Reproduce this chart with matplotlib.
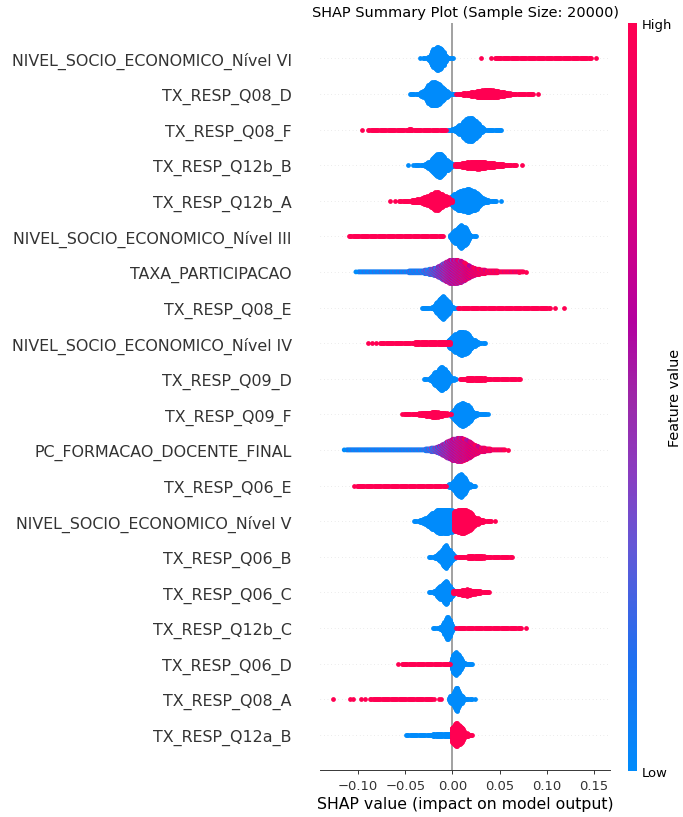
import numpy as np
import matplotlib.pyplot as plt
from matplotlib.colors import LinearSegmentedColormap
from matplotlib.cm import ScalarMappable

# Feature order, top to bottom
features = [
    "NIVEL_SOCIO_ECONOMICO_Nível VI", "TX_RESP_Q08_D", "TX_RESP_Q08_F",
    "TX_RESP_Q12b_B", "TX_RESP_Q12b_A", "NIVEL_SOCIO_ECONOMICO_Nível III",
    "TAXA_PARTICIPACAO", "TX_RESP_Q08_E", "NIVEL_SOCIO_ECONOMICO_Nível IV",
    "TX_RESP_Q09_D", "TX_RESP_Q09_F", "PC_FORMACAO_DOCENTE_FINAL",
    "TX_RESP_Q06_E", "NIVEL_SOCIO_ECONOMICO_Nível V", "TX_RESP_Q06_B",
    "TX_RESP_Q06_C", "TX_RESP_Q12b_C", "TX_RESP_Q06_D", "TX_RESP_Q08_A",
    "TX_RESP_Q12a_B",
]

# Swarm outline of the low-valued (blue) points: SHAP value knots and half height (rows)
low_x = [
    [-0.031, -0.029, -0.024, -0.0205, -0.016, -0.0117, -0.0081, -0.0046, 0.0],
    [-0.0452, -0.0381, -0.0346, -0.0293, -0.0258, -0.0198, -0.0134, -0.0081, -0.0028, 0.0042],
    [-0.0046, 0.0042, 0.0095, 0.0148, 0.0191, 0.0237, 0.029, 0.0343, 0.0413, 0.0519],
    [-0.0399, -0.0311, -0.0258, -0.0205, -0.0141, -0.0081, -0.0028, 0.0025],
    [-0.0028, -0.0011, 0.006, 0.0166, 0.0254, 0.0325, 0.0395, 0.0466],
    [-0.0028, 0.0042, 0.0095, 0.0148, 0.0184, 0.0219, 0.0254],
    [-0.0999, -0.0805, -0.0523, -0.0311, -0.0169, -0.0099, -0.0028, 0.0025, 0.0095, 0.0166, 0.0237, 0.036, 0.0537, 0.0678, 0.0749],
    [-0.0328, -0.024, -0.0187, -0.0134, -0.0099, -0.0056, -0.0011, 0.0042],
    [-0.0064, 0.0007, 0.0095, 0.0166, 0.0219, 0.0272, 0.0343],
    [-0.03, -0.024, -0.0187, -0.0134, -0.0106, -0.0064, -0.0011, 0.0042],
    [-0.0011, 0.0042, 0.0106, 0.0166, 0.0219, 0.029, 0.0378],
    [-0.1123, -0.0805, -0.0452, -0.0275, -0.0152, -0.0064, 0.0007, 0.0085, 0.0148, 0.0219, 0.029, 0.0395, 0.0501, 0.0554],
    [-0.0046, 0.0025, 0.0085, 0.0131, 0.0166, 0.0201, 0.0237],
    [-0.0406, -0.0346, -0.0293, -0.0222, -0.0169, -0.0117, -0.0046, 0.0014],
    [-0.0247, -0.0187, -0.0134, -0.0099, -0.0071, -0.0028, 0.0025],
    [-0.0247, -0.0187, -0.0134, -0.0081, -0.0064, -0.0028, 0.0025],
    [-0.0205, -0.0152, -0.0106, -0.0081, -0.0056, -0.0021, 0.0007, 0.0025],
    [-0.0018, 0.0011, 0.0039, 0.0074, 0.0117, 0.0169, 0.0215],
    [-0.0035, 0.0011, 0.0046, 0.0081, 0.0117, 0.0152, 0.0187],
    [-0.0491, -0.0272, -0.0201, -0.0007],
]
low_h = [
    [0.056, 0.056, 0.14, 0.328, 0.412, 0.356, 0.187, 0.075, 0.056],
    [0.047, 0.056, 0.094, 0.187, 0.328, 0.412, 0.337, 0.187, 0.094, 0.056],
    [0.075, 0.131, 0.234, 0.375, 0.421, 0.356, 0.187, 0.094, 0.066, 0.047],
    [0.056, 0.075, 0.14, 0.281, 0.412, 0.281, 0.14, 0.075],
    [0.14, 0.187, 0.328, 0.412, 0.309, 0.14, 0.084, 0.066],
    [0.112, 0.281, 0.412, 0.281, 0.112, 0.066, 0.047],
    [0.056, 0.066, 0.084, 0.112, 0.187, 0.3, 0.393, 0.412, 0.375, 0.262, 0.169, 0.112, 0.084, 0.066, 0.056],
    [0.047, 0.066, 0.14, 0.328, 0.412, 0.281, 0.112, 0.066],
    [0.112, 0.281, 0.412, 0.328, 0.169, 0.094, 0.047],
    [0.047, 0.094, 0.234, 0.375, 0.412, 0.281, 0.112, 0.075],
    [0.14, 0.281, 0.412, 0.328, 0.14, 0.075, 0.056],
    [0.047, 0.066, 0.075, 0.094, 0.15, 0.281, 0.375, 0.412, 0.356, 0.234, 0.14, 0.094, 0.066, 0.056],
    [0.094, 0.234, 0.412, 0.281, 0.14, 0.094, 0.056],
    [0.056, 0.094, 0.14, 0.281, 0.375, 0.412, 0.393, 0.356],
    [0.056, 0.094, 0.187, 0.328, 0.412, 0.234, 0.094],
    [0.056, 0.112, 0.234, 0.375, 0.412, 0.234, 0.094],
    [0.056, 0.075, 0.131, 0.281, 0.412, 0.281, 0.112, 0.075],
    [0.14, 0.328, 0.412, 0.281, 0.112, 0.075, 0.047],
    [0.094, 0.281, 0.412, 0.234, 0.094, 0.075, 0.056],
    [0.056, 0.066, 0.094, 0.094],
]

# Swarm outline of the high-valued (red) points
high_x = [
    [0.0448, 0.06, 0.13, 0.147],
    [0.0042, 0.0184, 0.029, 0.0385, 0.0466, 0.0607, 0.0749, 0.0855],
    [-0.0893, -0.0629, -0.0452, -0.0275, -0.0064],
    [0.0025, 0.0148, 0.0272, 0.0395, 0.0537, 0.0678],
    [-0.0565, -0.0452, -0.0346, -0.0258, -0.0169, -0.0099, -0.0028, 0.0],
    [-0.1095, -0.105, -0.0452, -0.0099],
    [],
    [0.006, 0.0254, 0.0607, 0.1031],
    [-0.077, -0.0629, -0.0452, -0.0293, -0.0169, -0.0028],
    [0.0078, 0.0184, 0.0325, 0.0537, 0.0713],
    [-0.053, -0.0417, -0.0293, -0.0187, -0.0099, -0.0011],
    [],
    [-0.1017, -0.0452, -0.0064],
    [0.0014, 0.006, 0.0113, 0.0184, 0.0237, 0.029, 0.036, 0.0413],
    [0.0042, 0.0184, 0.0325, 0.0466, 0.0625],
    [0.0007, 0.0078, 0.0148, 0.0219, 0.029, 0.036, 0.0395],
    [0.0042, 0.0254, 0.0466, 0.0731],
    [-0.0537, -0.0378, -0.0201, -0.0025],
    [-0.0872, -0.0554, -0.0378, -0.0201],
    [-0.0007, 0.0046, 0.0099, 0.0134, 0.0169, 0.0212],
]
high_h = [
    [0.07, 0.084, 0.084, 0.066],
    [0.075, 0.112, 0.159, 0.187, 0.15, 0.094, 0.066, 0.056],
    [0.056, 0.066, 0.094, 0.075, 0.066],
    [0.094, 0.14, 0.169, 0.131, 0.094, 0.066],
    [0.056, 0.084, 0.131, 0.206, 0.337, 0.234, 0.14, 0.094],
    [0.056, 0.07, 0.066, 0.056],
    [],
    [0.07, 0.075, 0.066, 0.056],
    [0.056, 0.066, 0.084, 0.112, 0.094, 0.094],
    [0.075, 0.103, 0.094, 0.075, 0.047],
    [0.056, 0.075, 0.112, 0.159, 0.112, 0.075],
    [],
    [0.06, 0.066, 0.056],
    [0.337, 0.375, 0.412, 0.328, 0.187, 0.112, 0.075, 0.056],
    [0.084, 0.094, 0.094, 0.075, 0.056],
    [0.094, 0.131, 0.169, 0.131, 0.094, 0.075, 0.056],
    [0.075, 0.075, 0.066, 0.056],
    [0.056, 0.066, 0.084, 0.066],
    [0.056, 0.066, 0.075, 0.075],
    [0.281, 0.412, 0.281, 0.14, 0.094, 0.056],
]

# Isolated points away from the swarms
low_pts = [[-0.0346], [], [], [-0.047, -0.0417], [0.0519], [], [-0.1024], [], [], [],
           [], [-0.1148], [], [], [], [], [], [], [0.0205, 0.024], []]
high_pts = [[0.0307, 0.0413, 0.1525], [0.0907], [-0.0957], [0.0734], [-0.0664, -0.0607], [],
            [0.0706, 0.0784], [0.1084, 0.1179], [-0.0893, -0.085, -0.081], [], [], [0.059],
            [-0.1042], [0.0448], [], [], [0.0777], [-0.0579],
            [-0.1268, -0.109, -0.105, -0.097, -0.093, -0.0148, -0.0124], []]

# Colour ramp (feature value) along SHAP value for the two continuous features
mix_x = {6: [-0.1, -0.035, -0.02, -0.005, 0.01, 0.025, 0.04],
         11: [-0.11, -0.03, -0.015, 0.0, 0.015, 0.03, 0.045]}
mix_c = {6: [0.0, 0.05, 0.3, 0.55, 0.7, 0.9, 1.0],
         11: [0.0, 0.05, 0.35, 0.6, 0.75, 0.9, 1.0]}

cmap = LinearSegmentedColormap.from_list("shap_red_blue", [
    (0.0, "#008bfb"), (0.15, "#1f6ff0"), (0.3, "#6457d6"), (0.4, "#8a3cc0"),
    (0.5, "#9d27a8"), (0.6, "#b3009f"), (0.7, "#cc008a"), (0.8, "#e00076"),
    (0.9, "#f00062"), (1.0, "#ff0052")])

DOT_R = 0.067   # dot radius in row units
DX = 0.0012
DY = 0.025


def swarm(xk, hk):
    # fill the outline with a lattice of dots
    xs, ys, ks = [], [], []
    if len(xk) == 0:
        return np.array(xs), np.array(ys), np.array(ks)
    for j, x in enumerate(np.arange(xk[0], xk[-1] + DX / 2, DX)):
        h = max(np.interp(x, xk, hk) - DOT_R, 0)
        n = int(h / DY)
        for k in range(-n, n + 1):
            xs.append(x)
            ys.append(k * DY)
            ks.append(j + k)
    return np.array(xs), np.array(ys), np.array(ks)


fig = plt.figure(figsize=(683 / 86, 818 / 86), dpi=86)
ax = fig.add_axes([320 / 683, 1 - 771.3 / 818, 290 / 683, (771.3 - 23.7) / 818])

n = len(features)
for i, name in enumerate(features):
    pos = n - 1 - i
    ax.axhline(y=pos, color="#cccccc", lw=0.5, dashes=(1, 5), zorder=-1)

    lx, ly, lk = swarm(low_x[i], low_h[i])
    if i in mix_x:
        c = np.interp(lx, mix_x[i], mix_c[i]) + ((lk % 3) - 1) * 0.2
        c = np.clip(c, 0, 1)
        lc = list(c) + list(np.interp(low_pts[i], mix_x[i], mix_c[i]))
        px = list(lx) + low_pts[i]
        py = list(ly + pos) + [pos] * len(low_pts[i])
        ax.scatter(px, py, c=lc, cmap=cmap, vmin=0, vmax=1, s=16, lw=0, rasterized=True)
    else:
        px = list(lx) + low_pts[i]
        py = list(ly + pos) + [pos] * len(low_pts[i])
        ax.scatter(px, py, color=cmap(0.0), s=16, lw=0, rasterized=True)

    hx, hy, hk = swarm(high_x[i], high_h[i])
    px = list(hx) + high_pts[i]
    py = list(hy + pos) + [pos] * len(high_pts[i])
    ax.scatter(px, py, color=cmap(1.0), s=16, lw=0, rasterized=True)

ax.axvline(x=0, color="#999999", zorder=-1)

ax.set_xlim(-0.1405, 0.1671)
ax.set_ylim(-1, n)
ax.set_yticks(range(n))
ax.set_yticklabels(features[::-1], fontsize=13.3)
ax.set_xticks([-0.10, -0.05, 0.0, 0.05, 0.10, 0.15])
ax.tick_params('y', length=20, width=0.5, color=(0, 0, 0, 0), labelcolor="#333333")
ax.tick_params('x', labelsize=11, color="#333333", labelcolor="#333333")
for side in ["top", "right", "left"]:
    ax.spines[side].set_visible(False)
ax.spines["bottom"].set_color("#333333")
ax.set_xlabel("SHAP value (impact on model output)", fontsize=13.2)
ax.set_title("SHAP Summary Plot (Sample Size: 20000)", fontsize=12.1)

cax = fig.add_axes([627.7 / 683, 1 - 771.7 / 818, 9.6 / 683, (771.7 - 24) / 818])
sm = ScalarMappable(cmap=cmap)
sm.set_clim(0, 1)
cb = fig.colorbar(sm, cax=cax, ticks=[0, 1])
cb.set_ticklabels(["Low", "High"])
cb.set_label("Feature value", size=12, labelpad=-3)
cb.ax.tick_params(labelsize=11, length=0)
cb.outline.set_visible(False)

fig.savefig("out.png", dpi=86)
